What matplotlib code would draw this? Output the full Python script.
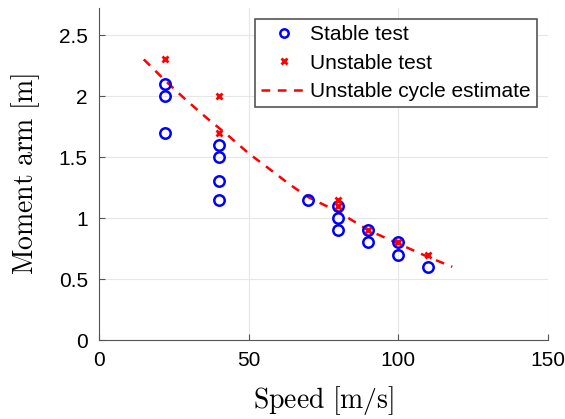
import matplotlib
matplotlib.use('Agg')
import matplotlib.pyplot as plt
from matplotlib.lines import Line2D

plt.rcParams['mathtext.fontset'] = 'cm'
plt.rcParams['font.family'] = ['Liberation Sans', 'DejaVu Sans']

# stabilni testy
stable_x = [22, 22, 22, 40, 40, 40, 40, 70, 80, 80, 80, 90, 90, 100, 100, 110]
stable_y = [2.1, 2.0, 1.7, 1.6, 1.5, 1.3, 1.15, 1.15, 1.1, 1.0, 0.9, 0.9, 0.8, 0.8, 0.7, 0.6]

# nestabilni testy
unstable_x = [22, 40, 40, 80, 80, 90, 100, 110]
unstable_y = [2.3, 2.0, 1.7, 1.15, 1.1, 0.9, 0.8, 0.7]

# odhad nestabilniho cyklu
est_x = [15, 22, 29, 36, 43, 50, 56, 64, 70, 80, 90, 100, 110, 118]
est_y = [2.30, 2.13, 1.97, 1.82, 1.68, 1.53, 1.42, 1.27, 1.17, 1.05, 0.90, 0.79, 0.68, 0.60]

fig = plt.figure(figsize=(5.65, 4.19), dpi=100)
ax = fig.add_axes([0.175, 0.1885, 0.795, 0.792])

ax.plot(est_x, est_y, '--', color='#ff0000', lw=1.8, dashes=(3.5, 3), zorder=2)
ax.plot(stable_x, stable_y, 'o', mfc='none', mec='#0000ff', ms=7.5, mew=1.8, ls='none', zorder=3)
ax.plot(unstable_x, unstable_y, 'x', color='#ff0000', ms=5, mew=2, ls='none', zorder=4)

ax.set_xlim(0, 150)
ax.set_ylim(0, 2.72)
ax.set_xticks([0, 50, 100, 150])
ax.set_yticks([0, 0.5, 1, 1.5, 2, 2.5])
ax.set_yticklabels(['0', '0.5', '1', '1.5', '2', '2.5'])
ax.grid(True, color='#e6e6e6', lw=0.8)
ax.set_axisbelow(True)
ax.spines['top'].set_visible(False)
ax.spines['right'].set_visible(False)
for s in ['left', 'bottom']:
    ax.spines[s].set_color('#555555')
    ax.spines[s].set_linewidth(0.8)
ax.tick_params(direction='in', length=4, width=0.8, color='#555555', labelsize=15, pad=8)

ax.set_xlabel(r'$\mathrm{Speed\ [m/s]}$', fontsize=20, labelpad=10)
ax.set_ylabel(r'$\mathrm{Moment\ arm\ [m]}$', fontsize=20, labelpad=12)

handles = [
    Line2D([], [], marker='o', mfc='none', mec='#0000ff', ms=6, mew=1.8, ls='none'),
    Line2D([], [], marker='x', color='#ff0000', ms=4.5, mew=2, ls='none'),
    Line2D([], [], ls='--', color='#ff0000', lw=1.8, dashes=(3.5, 3)),
]
leg = ax.legend(handles, ['Stable test', 'Unstable test', 'Unstable cycle estimate'],
                loc='upper right', bbox_to_anchor=(0.9755, 0.967), fontsize=15,
                frameon=True, fancybox=False, edgecolor='#555555', framealpha=1,
                handlelength=2.2, handletextpad=0.15, borderpad=0.3, labelspacing=0.45,
                borderaxespad=0)
leg.get_frame().set_linewidth(1.2)

fig.savefig('out.png', dpi=100)
